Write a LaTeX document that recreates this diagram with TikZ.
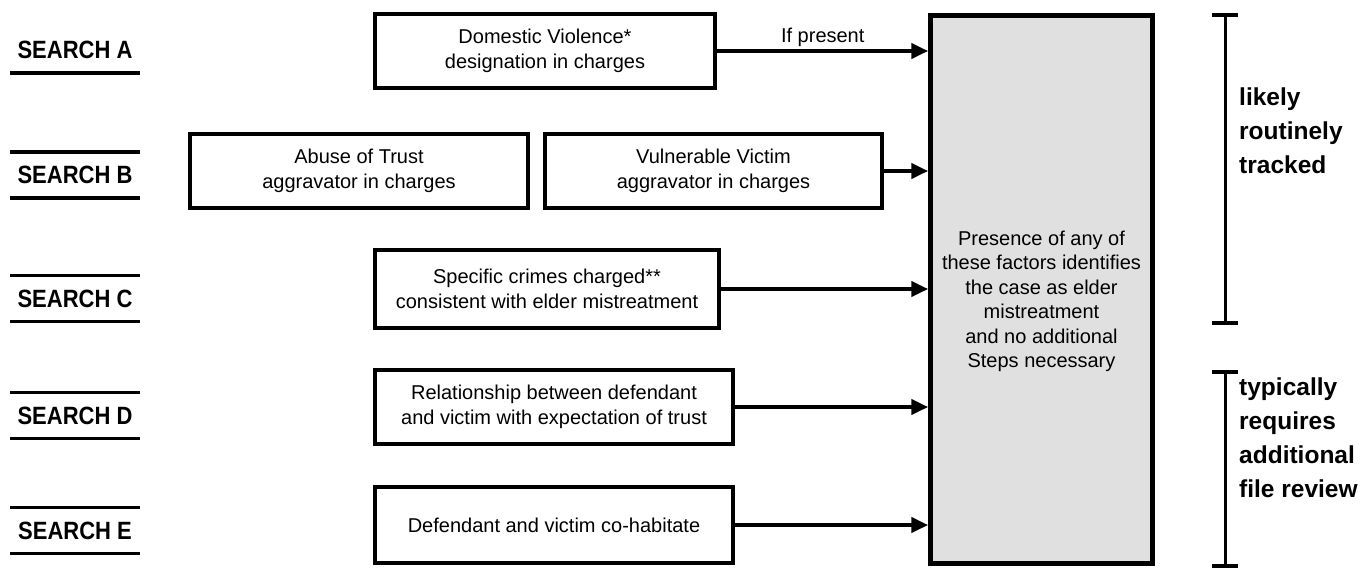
\documentclass[tikz,border=0pt]{standalone}
\usepackage{fontspec}
\setmainfont{Liberation Sans}
\newfontfamily\narrowsans[FakeStretch=0.88]{Liberation Sans}
\usetikzlibrary{arrows.meta}

\tikzset{
  box/.style={draw,line width=4.5pt,inner sep=0pt,align=center,
    font=\fontsize{20}{25}\selectfont},
  searchlbl/.style={inner sep=0pt,minimum width=129pt,minimum height=46pt,
    font=\narrowsans\fontsize{25}{28}\selectfont\bfseries},
  rule/.style={line width=3.5pt},
  conn/.style={line width=4.5pt,-{Triangle[length=17pt,width=15pt]}},
  brk/.style={line width=3pt},
  note/.style={inner sep=0pt,align=left,anchor=west,
    font=\fontsize{24.5}{34}\selectfont\bfseries}
}

\begin{document}
\begin{tikzpicture}[x=1pt,y=-1pt]
        \useasboundingbox (0,0) rectangle (1369,568);
        % search labels
        \node[searchlbl] (sA) at (75,50) {SEARCH A};
        \node[searchlbl] (sB) at (75,175) {SEARCH B};
        \node[searchlbl] (sC) at (75,298.5) {SEARCH C};
        \node[searchlbl] (sD) at (75,415.5) {SEARCH D};
        \node[searchlbl] (sE) at (75,530.5) {SEARCH E};
        \foreach \n in {A,B,C,D,E}
            \draw[rule] (s\n.south west) -- (s\n.south east);
        \foreach \n in {B,C,D,E}
            \draw[rule] (s\n.north west) -- (s\n.north east);
        % boxes
        \node[box,minimum width=340pt,minimum height=74pt] (dv) at (545,51)
            {Domestic Violence*\\designation in charges};
        \node[box,minimum width=338pt,minimum height=74pt] (abuse) at (359,171)
            {Abuse of Trust\\aggravator in charges};
        \node[box,minimum width=337pt,minimum height=74pt] (vuln) at (713.5,171)
            {Vulnerable Victim\\aggravator in charges};
        \node[box,minimum width=344pt,minimum height=78pt] (crimes) at (547,289)
            {Specific crimes charged**\\consistent with elder mistreatment};
        \node[box,minimum width=358pt,minimum height=74pt] (rel) at (554,407)
            {Relationship between defendant\\and victim with expectation of trust};
        \node[box,minimum width=358pt,minimum height=76pt] (cohab) at (554,525)
            {Defendant and victim co-habitate};
        \node[box,fill=gray!24,minimum width=222pt,minimum height=548pt] (res) at (1041.5,289.5) {};
        \node[align=center,inner sep=0pt,font=\fontsize{20}{24.5}\selectfont] (restxt)
            at ([yshift=-12pt]res.center)
            {Presence of any of\\these factors identifies\\the case as elder\\mistreatment\\and no additional\\Steps necessary};
        % arrows
        \draw[conn] (dv.east) -- (dv.east -| res.west)
            node[midway,above=-1pt,font=\fontsize{20}{25}\selectfont] {If present};
        \draw[conn] (vuln.east) -- (vuln.east -| res.west);
        \draw[conn] (crimes.east) -- (crimes.east -| res.west);
        \draw[conn] (rel.east) -- (rel.east -| res.west);
        \draw[conn] (cohab.east) -- (cohab.east -| res.west);
        % brackets
        \coordinate (t1) at (1225,15);
        \coordinate (b1) at (1225,323);
        \coordinate (t2) at (1225,372);
        \coordinate (b2) at (1225,566);
        \foreach \p/\q in {t1/b1,t2/b2} {
            \draw[brk] (\p) -- (\q);
            \draw[brk,line width=4pt] ([xshift=-13pt]\p) -- ([xshift=13pt]\p);
            \draw[brk,line width=4pt] ([xshift=-13pt]\q) -- ([xshift=13pt]\q);
        }
        \node[note] (tracked) at (1239,131) {likely\\routinely\\tracked};
        \node[note] (review) at (1239,438) {typically\\requires\\additional\\file review};
    \end{tikzpicture}
\end{document}
